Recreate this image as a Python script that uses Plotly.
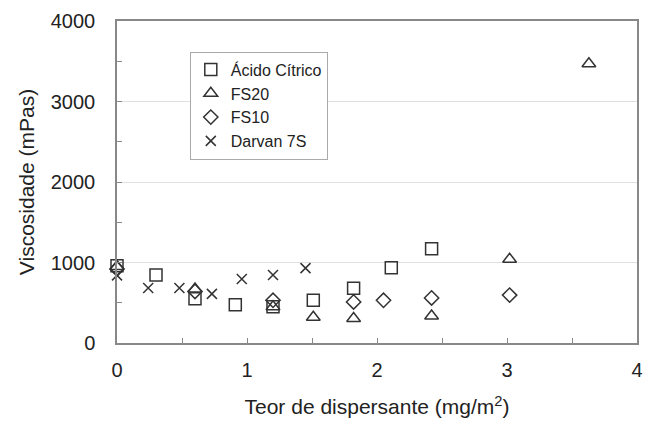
import plotly.graph_objects as go

acido_x = [0, 0.30, 0.60, 0.91, 1.20, 1.51, 1.82, 2.11, 2.42]
acido_y = [960, 845, 550, 475, 450, 530, 680, 935, 1170]

fs20_x = [0, 0.60, 1.20, 1.51, 1.82, 2.42, 3.02, 3.63]
fs20_y = [950, 670, 450, 320, 305, 335, 1040, 3470]

fs10_x = [0, 0.60, 1.20, 1.82, 2.05, 2.42, 3.02]
fs10_y = [920, 640, 530, 510, 530, 560, 595]

darvan_x = [0, 0.24, 0.48, 0.73, 0.96, 1.20, 1.45]
darvan_y = [840, 683, 683, 610, 795, 845, 930]

series = [
    ("Ácido Cítrico", acido_x, acido_y, "square-open", 12),
    ("FS20", fs20_x, fs20_y, "triangle-up-open", 12),
    ("FS10", fs10_x, fs10_y, "diamond-open", 11),
    ("Darvan 7S", darvan_x, darvan_y, "x-thin-open", 10),
]

fig = go.Figure()
for name, xs, ys, sym, sz in series:
    fig.add_trace(go.Scatter(
        x=xs, y=ys, mode="markers", name=name, legendgroup=name,
        cliponaxis=False,
        marker=dict(symbol=sym, size=sz, color="#333333",
                    line=dict(color="#333333", width=1.5)),
    ))

fig.update_layout(
    width=651, height=429,
    margin=dict(l=117, r=8, t=21, b=86),
    paper_bgcolor="white", plot_bgcolor="white",
    font=dict(family="Liberation Sans, Arial, sans-serif", color="#222222"),
    showlegend=True,
    legend=dict(x=0.14, y=0.905, xanchor="left", yanchor="top",
                bgcolor="white", bordercolor="#aaaaaa", borderwidth=1,
                font=dict(size=16, color="#222222"),
                itemwidth=30, tracegroupgap=0),
)
fig.update_xaxes(
    range=[0, 4], dtick=1, tick0=0,
    showline=True, linecolor="#888888", linewidth=1.5, mirror=True,
    ticks="inside", ticklen=5, tickcolor="#888888",
    minor=dict(dtick=0.5, ticks="inside", ticklen=5, tickcolor="#888888"),
    showgrid=False, zeroline=False,
    tickfont=dict(size=20), ticklabelstandoff=8,
    title=dict(text="Teor de dispersante (mg/m<sup>2</sup>)", font=dict(size=21), standoff=20),
)
fig.update_yaxes(
    range=[0, 4000], dtick=1000, tick0=0,
    showline=True, linecolor="#888888", linewidth=1.5, mirror=True,
    ticks="inside", ticklen=5, tickcolor="#888888",
    minor=dict(dtick=500, ticks="inside", ticklen=5, tickcolor="#888888"),
    showgrid=True, gridcolor="#e0e0e0", zeroline=False,
    tickfont=dict(size=20), ticklabelstandoff=16,
    title=dict(text="Viscosidade (mPas)", font=dict(size=21), standoff=10),
)

fig.write_html("out.html")
